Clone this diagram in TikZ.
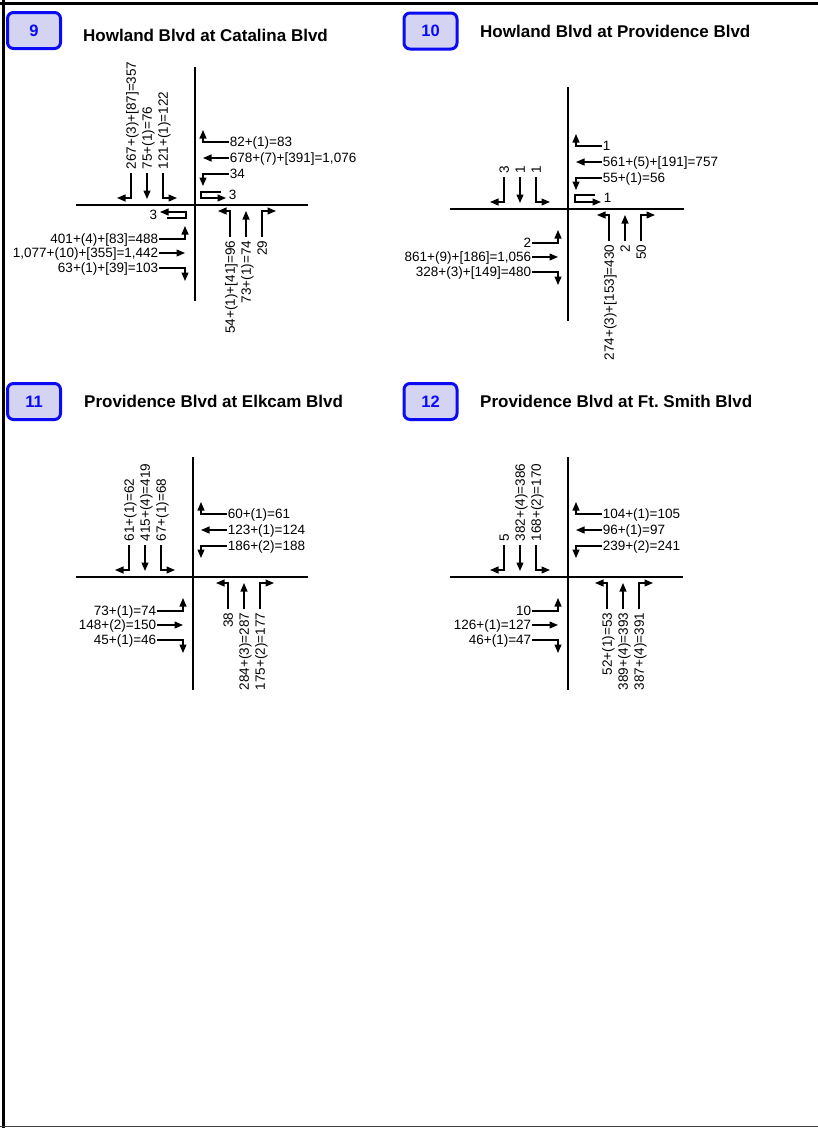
\documentclass[tikz,border=0pt]{standalone}
\usepackage{fontspec}
\setmainfont{Liberation Sans}
\usetikzlibrary{arrows.meta}
\definecolor{boxfill}{HTML}{D4D4F2}
\definecolor{boxblue}{HTML}{0A0AF5}
\tikzset{
  mv/.style={line width=1.15pt,-{Triangle[length=8.5pt,width=7pt]}},
  uturn/.style={line width=1.15pt,-{Triangle[length=8.5pt,width=7pt]}},
  road/.style={line width=1.3pt},
  hlab/.style={font=\fontsize{13.5}{16}\selectfont, inner sep=0.6pt, text height=9.7pt, text depth=0pt},
  vlab/.style={hlab, rotate=90},
  numbox/.style={draw=boxblue, line width=3pt, fill=boxfill, rounded corners=6pt,
    minimum width=53pt, minimum height=36pt, inner sep=0pt, text=boxblue,
    font=\bfseries\fontsize{16.5}{19}\selectfont},
  ttl/.style={font=\bfseries\fontsize{17}{20}\selectfont, anchor=base west, inner sep=0pt},
}
% southbound approach: prefix, right, through, left
\newcommand\SBapp[4]{%
  \node[vlab,anchor=west] (#1sR) at (-64,-35) {#2};
  \node[vlab,anchor=west] (#1sT) at (-48,-35) {#3};
  \node[vlab,anchor=west] (#1sL) at (-32,-35) {#4};
  \draw[mv] ([yshift=-3pt]#1sR.west) -- ++(0,25) -- ++(-14,0);
  \draw[mv] ([yshift=-3pt]#1sT.west) -- ++(0,26);
  \draw[mv] ([yshift=-3pt]#1sL.west) -- ++(0,25) -- ++(14,0);
}
% westbound approach: prefix, right, through, left
\newcommand\WBapp[4]{%
  \node[hlab,anchor=west] (#1wR) at (34,-63) {#2};
  \node[hlab,anchor=west] (#1wT) at (34,-47) {#3};
  \node[hlab,anchor=west] (#1wL) at (34,-31) {#4};
  \draw[mv] (#1wR.west) -- ++(-26,0) -- ++(0,-12);
  \draw[mv] (#1wT.west) -- ++(-26,0);
  \draw[mv] (#1wL.west) -- ++(-26,0) -- ++(0,12);
}
% eastbound approach: prefix, left, through, right
\newcommand\EBapp[4]{%
  \node[hlab,anchor=east] (#1eL) at (-36,34) {#2};
  \node[hlab,anchor=east] (#1eT) at (-36,48) {#3};
  \node[hlab,anchor=east] (#1eR) at (-36,63) {#4};
  \draw[mv] (#1eL.east) -- ++(26,0) -- ++(0,-13);
  \draw[mv] (#1eT.east) -- ++(26,0);
  \draw[mv] (#1eR.east) -- ++(26,0) -- ++(0,13);
}
% northbound approach: prefix, base x, left, through, right
\newcommand\NBapp[5]{%
  \node[vlab,anchor=east] (#1nL) at (#2,35) {#3};
  \node[vlab,anchor=east] (#1nT) at ({#2+16},35) {#4};
  \node[vlab,anchor=east] (#1nR) at ({#2+32},35) {#5};
  \draw[mv] ([yshift=3pt]#1nL.east) -- ++(0,-26) -- ++(-12,0);
  \draw[mv] ([yshift=3pt]#1nT.east) -- ++(0,-26);
  \draw[mv] ([yshift=3pt]#1nR.east) -- ++(0,-26) -- ++(14,0);
}
\begin{document}
\begin{tikzpicture}[x=1pt,y=-1pt]
\useasboundingbox (0,0) rectangle (818,1128);
% page frame
\draw[line width=3pt] (0,3.2) -- (818,3.2);
\draw[line width=3pt] (3.2,0) -- (3.2,1128);
\draw[line width=1.5pt, black!75] (0,1126.5) -- (818,1126.5);

% headers
\node[numbox] (b9) at (34,30.5) {9};
\node[ttl] (t9) at (83,41) {Howland Blvd at Catalina Blvd};
\node[numbox] (b10) at (430.5,31) {10};
\node[ttl] (t10) at (480,37) {Howland Blvd at Providence Blvd};
\node[numbox] (b11) at (34,401.5) {11};
\node[ttl] (t11) at (84,407) {Providence Blvd at Elkcam Blvd};
\node[numbox] (b12) at (430.5,401.5) {12};
\node[ttl] (t12) at (480,407) {Providence Blvd at Ft.\ Smith Blvd};

% ---------- intersection 9 ----------
\begin{scope}[shift={(195,205)}]
  \coordinate (a-n) at (0,-138); \coordinate (a-s) at (0,96);
  \coordinate (a-w) at (-119,0); \coordinate (a-e) at (113,0);
  \draw[road] (a-n) -- (a-s);
  \draw[road] (a-w) -- (a-e);
  \SBapp{a}{267+(3)+[87]=357}{75+(1)=76}{121+(1)=122}
  \WBapp{a}{82+(1)=83}{678+(7)+[391]=1,076}{34}
  \node[hlab,anchor=west] (awU) at (33,-10) {3};
  \draw[uturn] (26,-13) -- (6,-13) -- (6,-7) -- (31,-7);
  \EBapp{a}{401+(4)+[83]=488}{1,077+(10)+[355]=1,442}{63+(1)+[39]=103}
  \node[hlab,anchor=east] (aeU) at (-37,10) {3};
  \draw[uturn] (-28,13) -- (-9,13) -- (-9,7) -- (-35,7);
  \NBapp{a}{35}{54+(1)+[41]=96}{73+(1)=74}{29}
\end{scope}

% ---------- intersection 10 ----------
\begin{scope}[shift={(568,209)}]
  \coordinate (b-n) at (0,-122); \coordinate (b-s) at (0,112);
  \coordinate (b-w) at (-118,0); \coordinate (b-e) at (116,0);
  \draw[road] (b-n) -- (b-s);
  \draw[road] (b-w) -- (b-e);
  \SBapp{b}{3}{1}{1}
  \WBapp{b}{1}{561+(5)+[191]=757}{55+(1)=56}
  \node[hlab,anchor=west] (bwU) at (35,-11) {1};
  \draw[uturn] (27,-14) -- (7,-14) -- (7,-7) -- (33,-7);
  \EBapp{b}{2}{861+(9)+[186]=1,056}{328+(3)+[149]=480}
  \NBapp{b}{41}{274+(3)+[153]=430}{2}{50}
\end{scope}

% ---------- intersection 11 ----------
\begin{scope}[shift={(193,577)}]
  \coordinate (c-n) at (0,-120); \coordinate (c-s) at (0,113);
  \coordinate (c-w) at (-117,0); \coordinate (c-e) at (115,0);
  \draw[road] (c-n) -- (c-s);
  \draw[road] (c-w) -- (c-e);
  \SBapp{c}{61+(1)=62}{415+(4)=419}{67+(1)=68}
  \WBapp{c}{60+(1)=61}{123+(1)=124}{186+(2)=188}
  \EBapp{c}{73+(1)=74}{148+(2)=150}{45+(1)=46}
  \NBapp{c}{35}{38}{284+(3)=287}{175+(2)=177}
\end{scope}

% ---------- intersection 12 ----------
\begin{scope}[shift={(568,577)}]
  \coordinate (d-n) at (0,-120); \coordinate (d-s) at (0,113);
  \coordinate (d-w) at (-118,0); \coordinate (d-e) at (115,0);
  \draw[road] (d-n) -- (d-s);
  \draw[road] (d-w) -- (d-e);
  \SBapp{d}{5}{382+(4)=386}{168+(2)=170}
  \WBapp{d}{104+(1)=105}{96+(1)=97}{239+(2)=241}
  \EBapp{d}{10}{126+(1)=127}{46+(1)=47}
  \NBapp{d}{39}{52+(1)=53}{389+(4)=393}{387+(4)=391}
\end{scope}
\end{tikzpicture}
\end{document}
